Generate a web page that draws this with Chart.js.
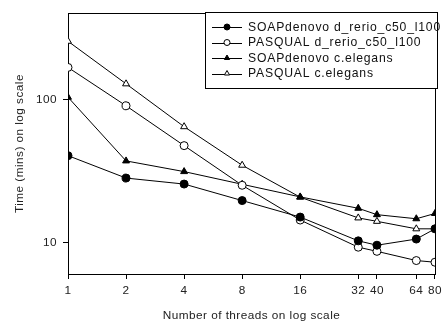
<!DOCTYPE html>
<html>
<head>
<meta charset="utf-8">
<script src="https://cdn.jsdelivr.net/npm/chart.js@4/dist/chart.umd.min.js"></script>
<style>
  html, body { margin: 0; padding: 0; background: #fff; }
  #wrap { width: 447px; height: 325px; position: relative; }
</style>
</head>
<body>
<div id="wrap"><canvas id="c" width="447" height="325"></canvas></div>
<script>
const threads = [1, 2, 4, 8, 16, 32, 40, 64, 80];
const xTicks = [1, 2, 4, 8, 16, 32, 40, 64, 80];
const yTicks = [10, 100];
const soapDrerio   = [40.6, 28.3, 25.7, 19.7, 15.1, 10.3, 9.6, 10.6, 12.5];
const pasqualDrerio = [168, 90.6, 47.7, 25.2, 14.4, 9.3, 8.7, 7.5, 7.3];
const soapCeleg    = [104, 37.3, 31.4, 25.6, 20.9, 17.4, 15.7, 14.7, 16.0];
const pasqualCeleg = [256, 129, 64.7, 34.8, 20.8, 14.9, 14.1, 12.5, 12.5];
const seriesLabels = ["SOAPdenovo d_rerio_c50_l100", "PASQUAL d_rerio_c50_l100", "SOAPdenovo c.elegans", "PASQUAL c.elegans"];

const FONT = "'Liberation Sans', Arial, sans-serif";
const FS = 11.8;
const LFS = 12.2;

function pts(vals) { return threads.map((t, i) => ({x: t, y: vals[i]})); }
function ds(label, vals, style, fill) {
  return {
    label, data: pts(vals),
    borderColor: '#000', borderWidth: 1,
    pointStyle: style, pointRadius: 4, pointHoverRadius: 4,
    pointBackgroundColor: fill, pointBorderColor: '#000', pointBorderWidth: 1,
    fill: false, tension: 0
  };
}

const spacing = {
  id: 'spacing',
  beforeUpdate(chart) { chart.ctx.letterSpacing = '0.45px'; },
  beforeDraw(chart) { chart.ctx.letterSpacing = '0.45px'; }
};

const frame = {
  id: 'frame',
  beforeDatasetsDraw(chart) {
    const {ctx, chartArea: a} = chart;
    ctx.save();
    ctx.strokeStyle = '#000'; ctx.lineWidth = 1;
    ctx.strokeRect(Math.round(a.left) + 0.5, Math.round(a.top) + 0.5, Math.round(a.right - a.left), Math.round(a.bottom - a.top));
    ctx.restore();
  }
};

const legendBox = {
  id: 'legendBox',
  afterDatasetsDraw(chart) {
    const {ctx} = chart;
    const x0 = 205.5, y0 = 12.5, x1 = 437.5, y1 = 88.5;
    ctx.save();
    ctx.fillStyle = '#fff';
    ctx.fillRect(x0, y0, x1 - x0, y1 - y0);
    ctx.strokeStyle = '#000'; ctx.lineWidth = 1;
    ctx.strokeRect(x0, y0, x1 - x0, y1 - y0);
    const rows = [27, 42.5, 58, 73.5];
    chart.data.datasets.forEach((d, i) => {
      const y = rows[i];
      ctx.beginPath();
      ctx.moveTo(212, Math.round(y) + 0.5); ctx.lineTo(242, Math.round(y) + 0.5);
      ctx.strokeStyle = '#000'; ctx.lineWidth = 1; ctx.stroke();
      ctx.fillStyle = d.pointBackgroundColor; ctx.strokeStyle = '#000';
      Chart.helpers.drawPoint(ctx, {pointStyle: d.pointStyle, radius: 3, borderWidth: 1}, 227, y);
      ctx.fillStyle = '#111';
      ctx.font = LFS + 'px ' + FONT;
      ctx.letterSpacing = '0.8px';
      ctx.textBaseline = 'middle'; ctx.textAlign = 'left';
      ctx.fillText(d.label, 248, y + 0.5);
    });
    ctx.restore();
  }
};

new Chart(document.getElementById('c'), {
  type: 'line',
  data: {
    datasets: [
      ds(seriesLabels[0], soapDrerio, 'circle', '#000'),
      ds(seriesLabels[1], pasqualDrerio, 'circle', '#fff'),
      ds(seriesLabels[2], soapCeleg, 'triangle', '#000'),
      ds(seriesLabels[3], pasqualCeleg, 'triangle', '#fff')
    ]
  },
  options: {
    responsive: false, animation: false,
    layout: {padding: {top: 7, right: 8, left: 0, bottom: 0}},
    plugins: {legend: {display: false}, tooltip: {enabled: false}},
    scales: {
      x: {
        type: 'logarithmic', min: 1, max: 80,
        afterBuildTicks(s) { s.ticks = xTicks.map(v => ({value: v})); },
        afterFit(s) { s.height = 51; },
        ticks: {callback: v => String(v), color: '#222', font: {family: FONT, size: FS}, padding: 5, maxRotation: 0, autoSkip: false},
        grid: {drawOnChartArea: false, tickLength: 5, color: '#000'},
        border: {color: '#000'},
        title: {display: true, text: 'Number of threads on log scale', color: '#222', font: {family: FONT, size: FS}, padding: {top: 0, bottom: 2}}
      },
      y: {
        type: 'logarithmic', min: 6.04, max: 403,
        afterBuildTicks(s) { s.ticks = yTicks.map(v => ({value: v})); },
        afterFit(s) { s.width = 68; },
        ticks: {callback: v => String(v), color: '#222', font: {family: FONT, size: FS}, padding: 6},
        grid: {drawOnChartArea: false, tickLength: 5, color: '#000'},
        border: {color: '#000'},
        title: {display: true, text: 'Time (mins) on log scale', color: '#222', font: {family: FONT, size: FS}, padding: {top: 13, bottom: 13}}
      }
    }
  },
  plugins: [spacing, frame, legendBox]
});
</script>
</body>
</html>
